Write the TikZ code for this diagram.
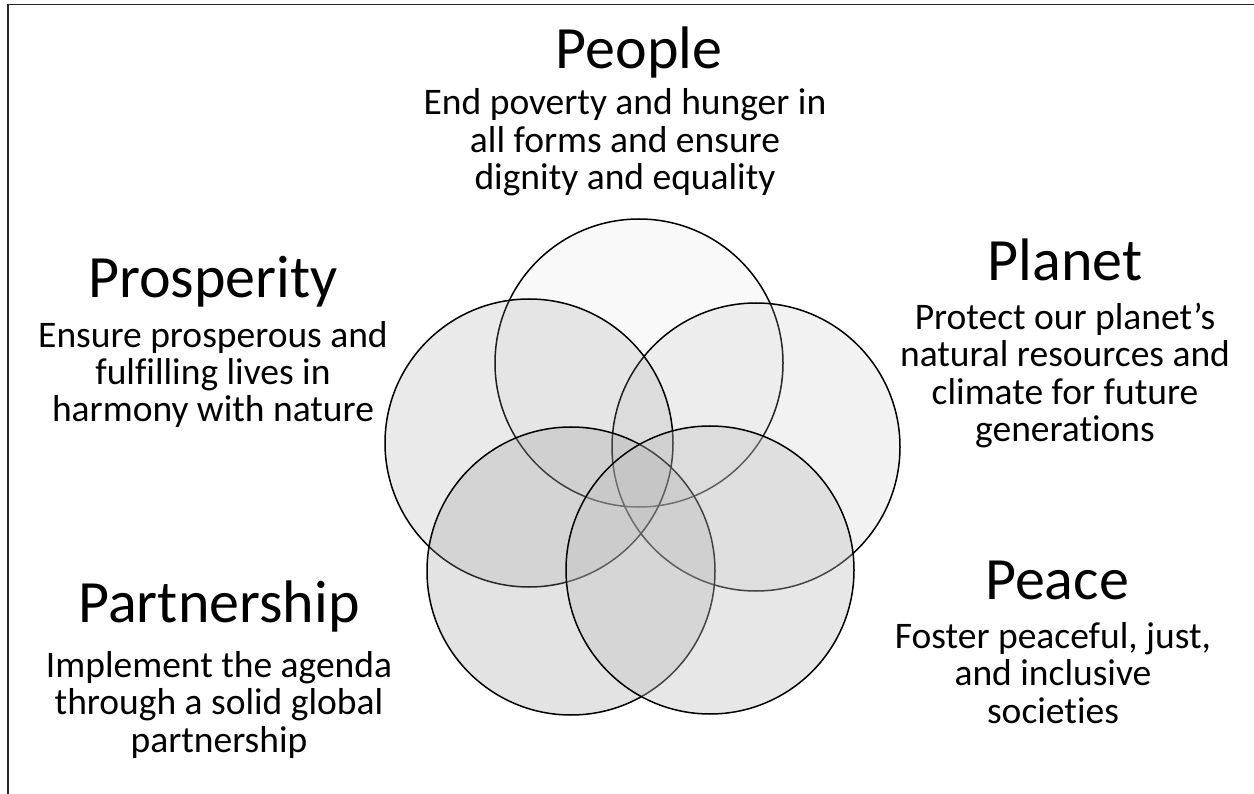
\documentclass[tikz,border=0pt]{standalone}
\usepackage{fontspec}
\setmainfont{Carlito}[Ligatures={CommonOff,ContextualOff}]
\begin{document}
\begin{tikzpicture}[x=1pt,y=-1pt,
  ring/.style={draw=black, line width=1.5pt, fill=black!40},
  lightring/.style={draw=black, line width=1.5pt, fill=black!25},
  title/.style={font=\fontsize{60}{66}\selectfont, anchor=base, inner sep=0pt},
  body/.style={font=\fontsize{37.5}{37.5}\selectfont, align=center, anchor=base, inner sep=0pt},
  frameline/.style={draw=black!85, line width=1.5pt}]
\useasboundingbox (0,0) rectangle (1254,794);
\fill[white] (0,0) rectangle (1254,794);
% frame (top and left edges)
\coordinate (fa) at (8,794);
\coordinate (fb) at (8,4.5);
\coordinate (fc) at (1254,4.5);
\draw[frameline] (fa) -- (fb) -- (fc);
% circles
\coordinate (cpeople) at (639,363);
\coordinate (cplanet) at (756,447);
\coordinate (cprosp) at (529,443);
\coordinate (cpart) at (571,571);
\coordinate (cpeace) at (710,570);
\path[ring, fill opacity=0.05] (cpeople) circle (144);
\path[lightring, fill opacity=0.2] (cplanet) circle (144);
\path[ring, fill opacity=0.2] (cprosp) circle (144);
\path[ring, fill opacity=0.265] (cpart) circle (144);
\path[lightring, fill opacity=0.36] (cpeace) circle (144);
% texts (body nodes anchored at the baseline of their last line)
\node[title] (tpeople) at (639,69) {People};
\node[body] (bpeople) at (625,190) {End poverty and hunger in\\all forms and ensure\\dignity and equality};
\node[title] (tprosp) at (213,298) {Prosperity};
\node[body] (bprosp) at (213,422) {Ensure prosperous and\\fulfilling lives in\\harmony with nature};
\node[title] (tplanet) at (1065,281) {Planet};
\node[body] (bplanet) at (1065,442) {Protect our planet’s\\natural resources and\\climate for future\\generations};
\node[title] (tpart) at (219,622) {Partnership};
\node[body] (bpart) at (219,752) {Implement the agenda\\through a solid global\\partnership};
\node[title] (tpeace) at (1057,599) {Peace};
\node[body] (bpeace) at (1053,723) {Foster peaceful, just,\\and inclusive\\societies};
\end{tikzpicture}
\end{document}
